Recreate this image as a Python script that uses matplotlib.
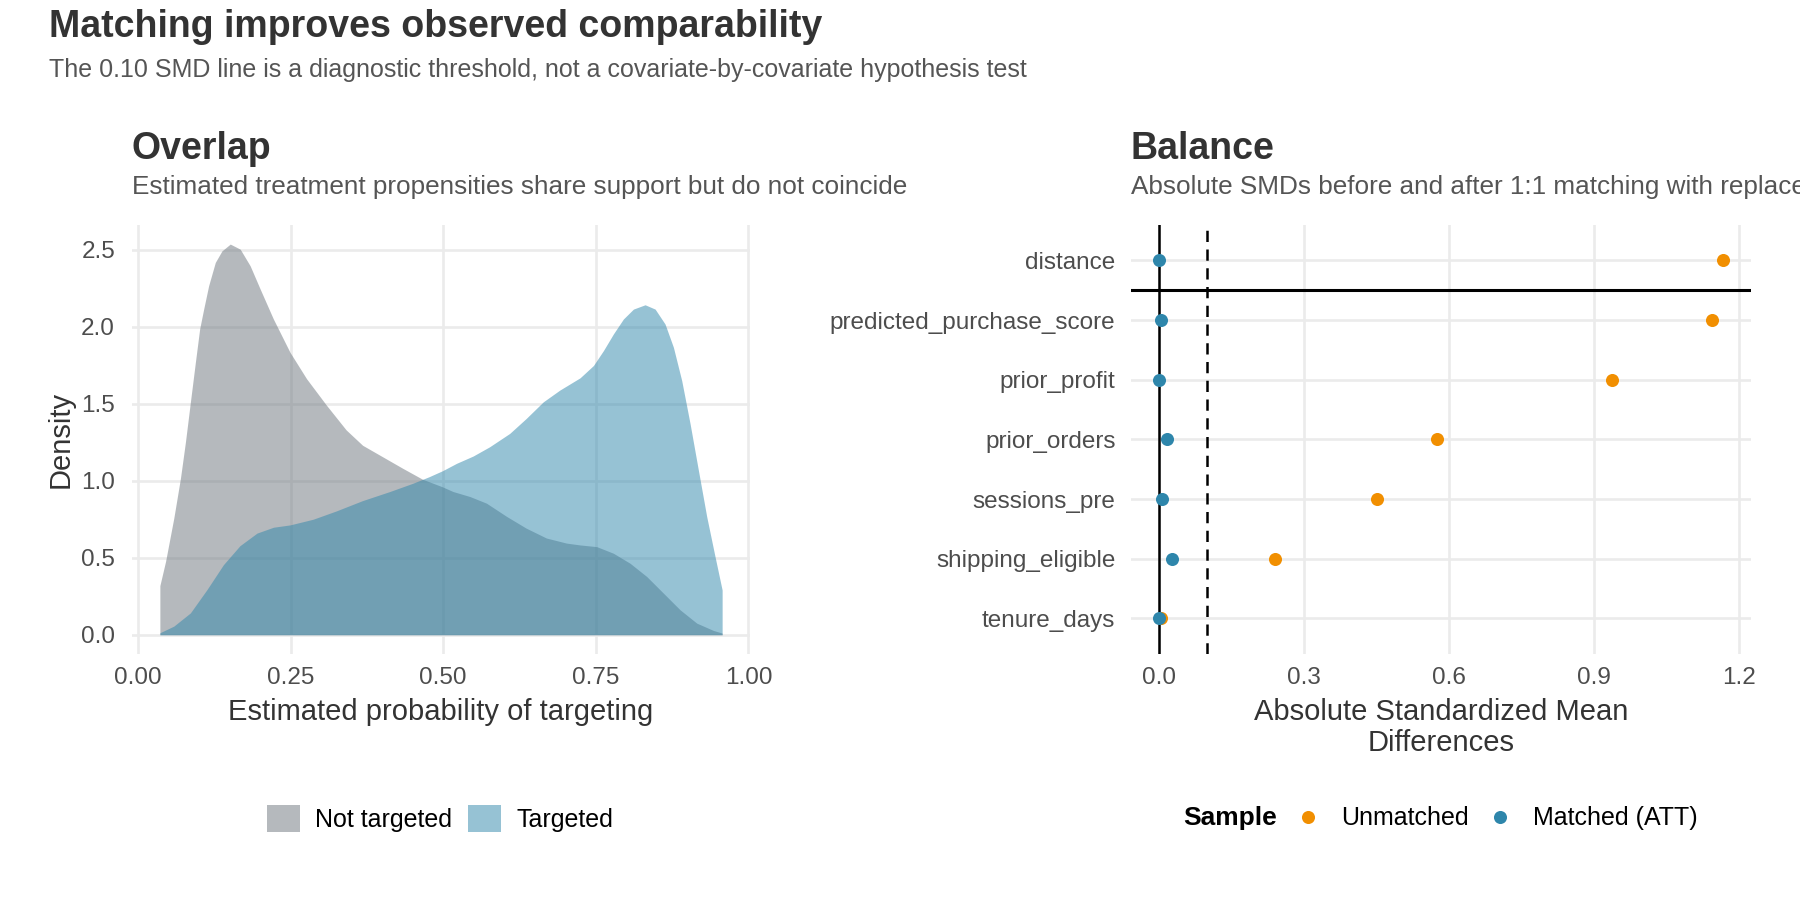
import numpy as np
import matplotlib
matplotlib.use("Agg")
import matplotlib.pyplot as plt
from matplotlib.patches import Patch
from matplotlib.lines import Line2D

plt.rcParams["font.family"] = ["Liberation Sans", "DejaVu Sans"]

# --- overlap panel: propensity densities ---
not_targeted_p = [0.0359, 0.0452, 0.0587, 0.0696, 0.0778, 0.0859, 0.0941, 0.1011, 0.1077, 0.1158,
                  0.1267, 0.1376, 0.1512, 0.1675, 0.1838, 0.2001, 0.2218, 0.2490, 0.2762, 0.3088,
                  0.341, 0.368, 0.401, 0.434, 0.466, 0.499, 0.516, 0.544, 0.571,
                  0.604, 0.636, 0.669, 0.702, 0.7243, 0.7516, 0.7789, 0.8062, 0.8335, 0.8608,
                  0.8881, 0.9154, 0.9427, 0.957]
not_targeted_d = [0.319, 0.476, 0.757, 1.016, 1.252, 1.511, 1.770, 1.986, 2.115, 2.266,
                  2.417, 2.492, 2.536, 2.503, 2.395, 2.245, 2.050, 1.834, 1.662, 1.490,
                  1.33, 1.23, 1.155, 1.08, 1.01, 0.96, 0.93, 0.897, 0.854,
                  0.768, 0.692, 0.628, 0.595, 0.583, 0.572, 0.529, 0.464, 0.378, 0.270,
                  0.162, 0.0755, 0.028, 0.011]

targeted_p = [0.0359, 0.0587, 0.0859, 0.113, 0.140, 0.167, 0.195, 0.222, 0.249, 0.287,
              0.325, 0.368, 0.412, 0.450, 0.477, 0.499, 0.522, 0.549, 0.576, 0.609,
              0.636, 0.664, 0.691, 0.7243, 0.7462, 0.7626, 0.7789, 0.7953, 0.8117, 0.8308,
              0.8472, 0.8635, 0.8772, 0.8908, 0.9045, 0.9181, 0.9318, 0.9454, 0.957]
targeted_d = [0.013, 0.056, 0.142, 0.293, 0.455, 0.578, 0.660, 0.698, 0.713, 0.750,
              0.804, 0.871, 0.929, 0.983, 1.026, 1.065, 1.113, 1.160, 1.220, 1.307,
              1.404, 1.512, 1.588, 1.668, 1.748, 1.845, 1.953, 2.050, 2.114, 2.142,
              2.114, 2.017, 1.866, 1.650, 1.370, 1.068, 0.766, 0.507, 0.291]

overlap_groups = ["Not targeted", "Targeted"]

# --- balance panel: absolute SMDs ---
covariates = ["distance", "predicted_purchase_score", "prior_profit", "prior_orders",
              "sessions_pre", "shipping_eligible", "tenure_days"]
smd_unmatched = [1.166, 1.144, 0.938, 0.575, 0.452, 0.240, 0.004]
smd_matched = [0.000, 0.004, 0.000, 0.017, 0.007, 0.026, 0.000]
sample_labels = ["Unmatched", "Matched (ATT)"]
threshold = 0.10

GRAY = "#6C757D"
BLUE = "#2E86AB"
ORANGE = "#F18F01"
GRID = "#EBEBEB"
TICK_COL = "#4D4D4D"

fig = plt.figure(figsize=(18, 9), dpi=100)

fig.text(0.0274, 0.9586, "Matching improves observed comparability", fontsize=27,
         fontweight="bold", color="#333333", va="baseline")
fig.text(0.0274, 0.9150, "The 0.10 SMD line is a diagnostic threshold, not a covariate-by-covariate hypothesis test",
         fontsize=18, color="#555555", va="baseline")


def style_axes(ax):
    for s in ax.spines.values():
        s.set_visible(False)
    ax.grid(True, color=GRID, linewidth=1.9)
    ax.set_axisbelow(True)
    ax.tick_params(length=0, labelsize=17.5, labelcolor=TICK_COL)
    ax.tick_params(axis="x", pad=9)


# ---------------- Overlap ----------------
ax1 = fig.add_axes([0.0732, 0.2730, 0.3436, 0.4775])
style_axes(ax1)
ax1.tick_params(axis="y", pad=12)
ax1.fill_between(not_targeted_p, 0, not_targeted_d, color=GRAY, alpha=0.5, linewidth=0)
ax1.fill_between(targeted_p, 0, targeted_d, color=BLUE, alpha=0.5, linewidth=0)

xmin = min(min(not_targeted_p), min(targeted_p))
xmax = max(max(not_targeted_p), max(targeted_p))
ymax = max(max(not_targeted_d), max(targeted_d))
ax1.set_xlim(xmin - 0.05 * (xmax - xmin), xmax + 0.05 * (xmax - xmin))
ax1.set_ylim(-0.05 * ymax, ymax * 1.05)
ax1.set_xticks([0, 0.25, 0.5, 0.75, 1.0])
ax1.set_xticklabels(["0.00", "0.25", "0.50", "0.75", "1.00"])
ax1.set_yticks([0, 0.5, 1.0, 1.5, 2.0, 2.5])
ax1.set_yticklabels(["0.0", "0.5", "1.0", "1.5", "2.0", "2.5"])
ax1.set_xlabel("Estimated probability of targeting", fontsize=21, color="#333333", va="center")
ax1.xaxis.set_label_coords(0.5, -0.1338)
ax1.set_ylabel("Density", fontsize=21, color="#333333", va="center")
ax1.yaxis.set_label_coords(-0.1148, 0.5)

fig.text(0.0732, 0.8232, "Overlap", fontsize=27, fontweight="bold", color="#333333", va="baseline")
fig.text(0.0732, 0.7842, "Estimated treatment propensities share support but do not coincide",
         fontsize=18.8, color="#555555", va="baseline")

handles1 = [Patch(facecolor=GRAY, alpha=0.5, edgecolor="none"),
            Patch(facecolor=BLUE, alpha=0.5, edgecolor="none")]
fig.legend(handles1, overlap_groups, loc="center left", bbox_to_anchor=(0.1414, 0.0906),
           ncol=2, frameon=False, fontsize=18, borderpad=0, handlelength=1.32,
           handleheight=1.32, handletextpad=0.6, columnspacing=0.65)

# ---------------- Balance ----------------
ax2 = fig.add_axes([0.6282, 0.2730, 0.3444, 0.4775])
style_axes(ax2)
ax2.tick_params(axis="y", pad=11)
ypos = np.arange(len(covariates))
ax2.axvline(0, color="black", linewidth=1.8, zorder=2)
ax2.axvline(threshold, color="black", linewidth=1.8, linestyle=(0, (4.5, 3)), zorder=2)
ax2.axhline(0.5, color="black", linewidth=2.2, zorder=2)
ax2.plot(smd_unmatched, ypos, "o", color=ORANGE, markersize=9.4, markeredgewidth=0, zorder=3)
ax2.plot(smd_matched, ypos, "o", color=BLUE, markersize=9.4, markeredgewidth=0, zorder=4)

lo = min(min(smd_unmatched), min(smd_matched))
hi = max(max(smd_unmatched), max(smd_matched))
ax2.set_xlim(lo - 0.05 * (hi - lo), hi + 0.05 * (hi - lo))
ax2.set_ylim(len(covariates) - 0.4, -0.6)
ax2.set_yticks(ypos)
ax2.set_yticklabels(covariates)
ax2.set_xticks([0, 0.3, 0.6, 0.9, 1.2])
ax2.set_xticklabels(["0.0", "0.3", "0.6", "0.9", "1.2"])
ax2.set_xlabel("Absolute Standardized Mean\nDifferences", fontsize=21, color="#333333",
               va="center", linespacing=1.12)
ax2.xaxis.set_label_coords(0.5, -0.170)

# subtitle runs past the right edge, as in the reference
fig.text(0.6282, 0.8232, "Balance", fontsize=27, fontweight="bold", color="#333333", va="baseline")
fig.text(0.6282, 0.7842, "Absolute SMDs before and after 1:1 matching with replacement",
         fontsize=18.8, color="#555555", va="baseline")

fig.text(0.7092, 0.0906, "Sample", fontsize=19, fontweight="bold", ha="right", va="center")
handles2 = [Line2D([], [], marker="o", linestyle="none", color=ORANGE, markersize=9.4, markeredgewidth=0),
            Line2D([], [], marker="o", linestyle="none", color=BLUE, markersize=9.4, markeredgewidth=0)]
fig.legend(handles2, sample_labels, loc="center left", bbox_to_anchor=(0.7143, 0.0906),
           ncol=2, frameon=False, fontsize=18, borderpad=0, handlelength=0.8,
           handletextpad=0.9, columnspacing=0.87)

fig.savefig("out.png", dpi=100)
